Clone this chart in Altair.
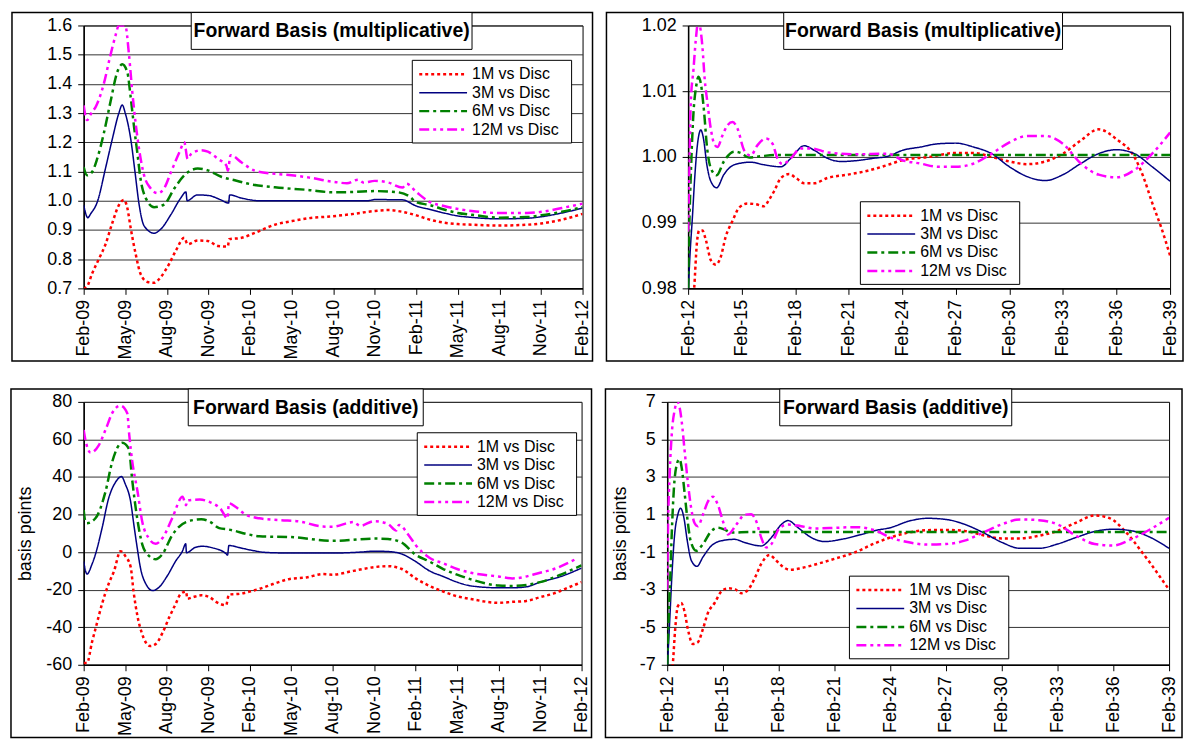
import altair as alt
import pandas as pd

SERIES = ["1M vs Disc", "3M vs Disc", "6M vs Disc", "12M vs Disc"]
COLORS = ["#FF0000", "#000080", "#008000", "#FF00FF"]
DASHES = [[3, 3], [1, 0], [10, 4, 3, 4], [10, 4, 3, 4, 3, 4]]
WIDTHS = [2.5, 1.5, 2.5, 2.5]

SHORT_TICKS = ["Feb-09", "May-09", "Aug-09", "Nov-09", "Feb-10", "May-10", "Aug-10",
               "Nov-10", "Feb-11", "May-11", "Aug-11", "Nov-11", "Feb-12"]
LONG_TICKS = ["Feb-12", "Feb-15", "Feb-18", "Feb-21", "Feb-24", "Feb-27", "Feb-30",
              "Feb-33", "Feb-36", "Feb-39"]

# ---------------- Panel 1: multiplicative, Feb-09..Feb-12 (months) ----------------
P1_X_1M = [0, 0.24, 0.6, 1.09, 1.57, 2.06, 2.54, 2.9, 3.15, 3.39, 3.75, 4.1, 4.6, 5.08, 5.57, 6.17, 6.66,
           7.26, 7.5, 8.23, 8.96, 9.7, 10.4, 10.5, 11.4, 12.35, 13.8, 15, 16.2, 18, 19.5, 21, 22, 23, 24,
           25, 26, 27, 28, 30, 32, 33, 34.5, 36]
P1_Y_1M = [0.7, 0.706, 0.75, 0.8, 0.85, 0.923, 0.985, 1.003, 0.975, 0.907, 0.818, 0.75, 0.722, 0.719,
           0.739, 0.784, 0.83, 0.873, 0.851, 0.864, 0.862, 0.845, 0.843, 0.868, 0.873, 0.89, 0.918, 0.93,
           0.94, 0.947, 0.955, 0.965, 0.968, 0.962, 0.95, 0.935, 0.925, 0.92, 0.918, 0.915, 0.918, 0.922,
           0.935, 0.955]
P1_X_3M = [0, 0.3, 0.5, 1.0, 1.57, 2.06, 2.54, 2.78, 3.0, 3.4, 3.7, 4.0, 4.36, 5.08, 5.57, 6.3, 7.0, 7.38,
           7.46, 8.2, 9.0, 9.9, 10.46, 10.53, 11.4, 12.7, 15, 18, 20.5, 21, 23, 24, 25, 26, 27, 28, 30, 32,
           33, 34.5, 36]
P1_Y_3M = [0.985, 0.942, 0.955, 0.998, 1.11, 1.21, 1.3, 1.328, 1.3, 1.21, 1.1, 0.987, 0.914, 0.889, 0.903,
           0.953, 1.009, 1.03, 1.0, 1.02, 1.018, 1.003, 0.992, 1.02, 1.009, 1.0, 1.0, 1.0, 1.0, 1.004, 1.003,
           0.982, 0.97, 0.958, 0.948, 0.943, 0.938, 0.94, 0.945, 0.958, 0.975]
P1_X_6M = [0, 0.24, 0.6, 0.97, 1.45, 1.94, 2.42, 2.78, 3.15, 3.39, 3.63, 3.87, 4.1, 4.48, 5.08, 5.8, 6.54,
           7.26, 8.23, 8.96, 9.93, 10.9, 12.1, 13.8, 16.2, 18, 19.5, 21, 22.5, 23.5, 24, 25, 26, 27, 28, 30,
           32, 33, 34.5, 36]
P1_Y_6M = [1.115, 1.087, 1.098, 1.143, 1.23, 1.34, 1.44, 1.467, 1.44, 1.355, 1.255, 1.165, 1.076, 1.009,
           0.978, 0.987, 1.042, 1.087, 1.11, 1.104, 1.082, 1.07, 1.056, 1.046, 1.037, 1.029, 1.03, 1.033,
           1.03, 1.015, 0.995, 0.985, 0.97, 0.958, 0.952, 0.942, 0.944, 0.95, 0.962, 0.978]
P1_X_12M = [0, 0.24, 0.6, 0.85, 1.45, 1.94, 2.3, 2.54, 3.0, 3.27, 3.5, 3.75, 4.0, 4.36, 4.84, 5.33, 5.8, 6.3,
            6.9, 7.26, 7.5, 7.75, 8.47, 8.96, 9.7, 10.3, 10.4, 10.6, 11.4, 12.35, 13.8, 15, 16.2, 18, 19,
            19.8, 20.2, 21, 22, 23, 23.3, 24, 25, 26, 27, 28, 30, 32, 33, 34.5, 36]
P1_Y_12M = [1.326, 1.276, 1.304, 1.32, 1.4, 1.5, 1.566, 1.6, 1.6, 1.5, 1.377, 1.265, 1.176, 1.087, 1.042,
            1.026, 1.042, 1.098, 1.165, 1.2, 1.143, 1.16, 1.173, 1.168, 1.143, 1.12, 1.103, 1.156, 1.131,
            1.103, 1.092, 1.087, 1.08, 1.065, 1.06, 1.072, 1.062, 1.068, 1.062, 1.045, 1.058, 1.03, 0.995,
            0.982, 0.972, 0.965, 0.958, 0.958, 0.962, 0.975, 0.99]

# ---------------- Panel 2: multiplicative, Feb-12..Feb-39 (years) ----------------
P2_X_1M = [0, 0.34, 0.49, 0.62, 0.8, 1.0, 1.27, 1.55, 1.83, 2.1, 2.49, 2.86, 3.33, 3.8, 4.26, 4.54, 4.82,
           5.2, 5.66, 6.04, 6.5, 7.07, 7.8, 8.93, 10.06, 11.2, 12, 13.5, 15, 16, 17, 18, 19, 20, 21, 22, 23,
           24, 25, 25.5, 26, 26.5, 27]
P2_Y_1M = [0.972, 0.98, 0.9868, 0.9888, 0.9888, 0.9873, 0.9843, 0.9836, 0.9848, 0.9878, 0.9903, 0.9923,
           0.9929, 0.9928, 0.9925, 0.9935, 0.9948, 0.9968, 0.9974, 0.9968, 0.996, 0.996, 0.9968, 0.9973,
           0.9979, 0.9988, 0.9995, 1.0, 1.0006, 1.0006, 1.0, 0.9993, 0.9989, 0.9993, 1.0005, 1.0025, 1.0042,
           1.0027, 1.0, 0.997, 0.993, 0.9893, 0.985]
P2_X_3M = [0, 0.11, 0.24, 0.37, 0.52, 0.71, 0.86, 1.05, 1.27, 1.6, 2.0, 2.58, 3.5, 4.26, 5.2, 5.76, 6.5,
           7.07, 7.8, 8.56, 9.3, 10.4, 11.2, 12, 13, 14, 15, 16, 17, 18, 19, 20, 21, 22, 23, 24, 25, 26, 27]
P2_Y_3M = [0.979, 0.9853, 0.9908, 0.9968, 1.0018, 1.0041, 1.0028, 0.9988, 0.9963, 0.9953, 0.9973, 0.9988,
           0.9992, 0.9988, 0.9985, 0.9998, 1.0017, 1.001, 0.9998, 0.9993, 0.9994, 0.9998, 1.0001, 1.001,
           1.0015, 1.002, 1.0021, 1.0015, 1.0005, 0.9985, 0.997, 0.9964, 0.9973, 0.999, 1.0005, 1.0011,
           1.0005, 0.9985, 0.9963]
P2_X_6M = [0, 0.07, 0.19, 0.3, 0.45, 0.58, 0.71, 0.9, 1.05, 1.27, 1.6, 2.0, 2.58, 2.95, 3.42, 4.07, 5, 27]
P2_Y_6M = [0.98, 0.9898, 1.0002, 1.0067, 1.0107, 1.0122, 1.0112, 1.0067, 1.0017, 0.9983, 0.9972, 0.9993,
           1.0008, 1.0006, 0.9999, 1.0001, 1.0003, 1.0003]
P2_X_12M = [0, 0.06, 0.15, 0.3, 0.43, 0.56, 0.67, 0.8, 0.93, 1.08, 1.27, 1.46, 1.64, 1.93, 2.2, 2.49, 2.77,
            3.14, 3.5, 3.89, 4.36, 4.73, 5.0, 5.29, 5.76, 6.3, 6.9, 7.8, 9.3, 11.2, 12, 13, 14, 15, 16, 17,
            18, 19, 20, 21, 22, 23, 24, 25, 26, 27]
P2_Y_12M = [0.9886, 0.9968, 1.0083, 1.0133, 1.0178, 1.0205, 1.0198, 1.0168, 1.0118, 1.0083, 1.0043, 1.002,
            1.0015, 1.0033, 1.0048, 1.0053, 1.0043, 1.001, 1.0002, 1.0018, 1.0028, 1.002, 0.9998, 0.9989,
            0.9998, 1.0013, 1.0013, 1.0007, 1.0004, 1.0005, 0.9995, 0.999, 0.9985, 0.9985, 0.999, 1.0005,
            1.0022, 1.0032, 1.0032, 1.002, 0.999, 0.9973, 0.9969, 0.998, 1.0005, 1.0037]

# ---------------- Panel 3: additive (bp), Feb-09..Feb-12 (months) ----------------
P3_X_1M = [0, 0.24, 0.6, 0.9, 1.33, 1.8, 2.2, 2.66, 3.0, 3.4, 3.6, 3.9, 4.2, 4.8, 5.2, 5.7, 6.2, 6.66, 7.0,
           7.4, 7.5, 7.9, 8.5, 9.1, 9.6, 10.3, 10.5, 11.3, 12, 12.7, 13.7, 14.9, 16.1, 17.3, 18, 19.5, 21,
           22, 23, 24, 25, 26, 27, 28, 30, 31, 32, 33, 34, 35, 36]
P3_Y_1M = [-59, -59, -48, -39.5, -27.5, -17, -10, 0.5, -2, -8, -20.6, -34.5, -43, -50, -49, -43, -34.5,
           -27.5, -22.4, -21, -24.8, -24, -23, -24, -26.6, -28.3, -22.6, -22.2, -21, -19.6, -17, -14.3,
           -13.5, -11.7, -12, -10, -8, -7.5, -9, -14, -18, -21, -23.5, -25, -27, -26.5, -26, -24, -22, -19,
           -16]
P3_X_3M = [0, 0.24, 0.6, 0.85, 1.33, 1.8, 2.3, 2.74, 3.0, 3.4, 3.63, 3.87, 4.1, 4.5, 5.0, 5.45, 6.05, 6.66,
           7.14, 7.38, 7.43, 8.1, 8.6, 9.3, 10.3, 10.4, 10.5, 11.3, 12.2, 13.2, 15, 18, 20, 21, 22, 23, 24,
           25, 26, 27, 28, 30, 31, 32, 33, 34.5, 36]
P3_Y_3M = [-5, -11.7, -6.5, -1.2, 12.8, 28.5, 37.2, 40.2, 36.4, 26.7, 14.5, 2.3, -8.2, -17, -20.5, -18.7,
           -12.6, -4.7, 0.5, 4.4, -0.3, 2.6, 3.1, 2.3, -0.9, -1.6, 3.5, 2.3, 0.9, -0.2, -0.5, -0.5, 0, 0.5,
           0.3, -1, -5, -10, -13, -16, -18, -19, -19, -18.5, -16, -13, -8.5]
P3_X_6M = [0, 0.1, 0.24, 0.85, 1.57, 2.06, 2.78, 3.27, 3.5, 3.87, 4.24, 4.72, 5.2, 5.7, 6.4, 7.4, 8.5, 9.1,
           9.8, 10.5, 12, 12.7, 15, 18, 21, 22, 23, 24, 25, 26, 27, 28, 30, 31, 33, 34.5, 36]
P3_Y_6M = [22.4, 17, 15.4, 18, 32, 48, 58.2, 55, 39, 18, 4, -2, -3.8, -1, 9, 16, 17.5, 16.3, 12.8, 12, 9.3,
           8.4, 8, 6, 7.2, 7, 5, -1.4, -5, -9, -12, -14.5, -17.8, -18, -16, -12, -7]
P3_X_12M = [0, 0.12, 0.5, 1.1, 1.6, 2.06, 2.66, 3.15, 3.3, 3.5, 3.9, 4.24, 4.7, 5.2, 5.7, 6.4, 7.15, 7.4,
            7.5, 8.4, 9.1, 9.9, 10.4, 10.5, 11.0, 11.7, 12.7, 14.2, 15.6, 17.3, 18, 19.5, 20, 21, 22, 22.6,
            22.8, 23.5, 24, 25, 26, 27, 28, 30, 31, 33, 34, 35.5]
P3_Y_12M = [65, 60, 53, 57, 65.5, 74, 78, 74, 62, 49, 32, 16, 7.5, 4.4, 7.5, 18, 29.5, 25, 27.5, 28, 26.7,
            23, 18, 26, 24, 20, 18, 17, 16.3, 13.6, 13.5, 16, 14, 16.5, 15, 11.5, 14.5, 9, 3.8, -3, -6, -9,
            -11, -13, -14, -11, -9, -4]

# ---------------- Panel 4: additive (bp), Feb-12..Feb-39 (years) ----------------
P4_X_1M = [0, 0.3, 0.43, 0.57, 0.75, 0.93, 1.11, 1.38, 1.65, 1.92, 2.19, 2.55, 2.91, 3.27, 3.63, 3.99,
           4.34, 4.7, 5.06, 5.51, 5.78, 6.14, 6.59, 7.22, 8.11, 9.0, 10.1, 11.2, 12, 13, 14, 15, 16, 17, 18,
           19, 20, 21, 22, 23, 23.5, 24, 24.5, 25, 25.5, 26, 26.5, 27]
P4_Y_1M = [-9, -7, -5.1, -3.89, -3.71, -4.15, -5.1, -5.89, -5.8, -5.1, -4.24, -3.71, -3.1, -2.93, -2.97,
           -3.19, -3.02, -2.41, -1.62, -1.15, -1.36, -1.71, -1.94, -1.85, -1.62, -1.36, -1.01, -0.52, -0.22,
           0.04, 0.17, 0.18, 0.13, -0.1, -0.27, -0.27, -0.13, 0.13, 0.57, 0.95, 0.9, 0.7, 0.25, -0.3, -0.95,
           -1.6, -2.3, -3.0]
P4_X_3M = [0, 0.13, 0.25, 0.4, 0.57, 0.72, 0.9, 1.08, 1.3, 1.6, 1.92, 2.37, 2.9, 3.63, 4.17, 5.06, 5.6,
           6.14, 6.5, 7.04, 7.76, 8.47, 9.37, 10.45, 11.2, 12, 13, 14, 15, 16, 17, 18, 19, 20, 21, 22, 23,
           24, 25, 26, 27]
P4_Y_3M = [-7.3, -4.76, -2.3, -0.06, 0.99, 1.34, 0.82, -0.4, -1.45, -1.76, -1.27, -0.67, -0.4, -0.32,
           -0.49, -0.67, -0.23, 0.47, 0.68, 0.3, -0.23, -0.44, -0.32, -0.06, 0.15, 0.3, 0.65, 0.8, 0.74,
           0.48, 0.04, -0.48, -0.8, -0.8, -0.57, -0.22, 0.1, 0.22, 0.13, -0.22, -0.8]
P4_X_6M = [0, 0.07, 0.16, 0.25, 0.36, 0.5, 0.66, 0.79, 0.93, 1.08, 1.26, 1.56, 1.92, 2.37, 2.73, 3.09,
           3.45, 4.5, 27]
P4_Y_6M = [-7, -4.76, -2.5, 0.12, 2.38, 3.6, 3.95, 3.43, 2.2, 0.82, -0.4, -0.93, -0.58, 0.12, 0.3, 0.2,
           0.04, 0.07, 0.07]
P4_X_12M = [0, 0.04, 0.13, 0.25, 0.4, 0.54, 0.66, 0.79, 0.93, 1.11, 1.29, 1.47, 1.65, 1.92, 2.19, 2.46,
            2.73, 3.0, 3.27, 3.72, 4.17, 4.52, 4.79, 5.06, 5.33, 5.6, 6.05, 6.5, 7.2, 7.94, 9.0, 10.1, 11.2,
            12, 13, 14, 15, 16, 17, 18, 19, 20, 21, 22, 23, 24, 25, 26, 27]
P4_Y_12M = [-3.0, 0.12, 3.08, 5.35, 6.56, 7.0, 6.74, 5.87, 4.47, 2.73, 1.34, 0.55, 0.38, 0.99, 1.69, 1.95,
            1.51, 0.64, -0.06, 0.47, 0.99, 1.02, 0.64, -0.23, -0.75, -0.58, 0.29, 0.47, 0.38, 0.26, 0.29,
            0.33, 0.15, -0.22, -0.48, -0.6, -0.57, -0.39, 0.04, 0.48, 0.74, 0.7, 0.48, -0.13, -0.57, -0.65,
            -0.3, 0.22, 0.83]

FONT = "Liberation Sans"
ONE = pd.DataFrame({"k": [0]})
TOP = 13
BOTTOM = 73
LEG_W = 160
LEG_H = 83
LEG_ROW = 18.5
LEG_FONT = 16


def tick_label_expr(labels):
    arr = ",".join("'%s'" % s for s in labels)
    return "[" + arr + "][round(datum.value / 3)]"


def panel(xs, ys, ticks, ydom, yvals, ylab, w, h, left, right, title, tbox, lpos,
          ytitle=None, ytitle_x=0):
    xmax = 3 * (len(ticks) - 1)
    xaxis = alt.Axis(values=list(range(0, xmax + 1, 3)), labelExpr=tick_label_expr(ticks),
                     labelAngle=-90, grid=False, title=None, labelPadding=5, tickSize=6)
    yargs = dict(values=yvals, labelExpr=ylab, grid=True, tickSize=6, labelPadding=6)
    if ytitle:
        yargs.update(title=ytitle, titleX=ytitle_x, titleY=h / 2, titleAngle=-90,
                     titleAlign="center", titleBaseline="middle")
    else:
        yargs.update(title=None)
    yaxis = alt.Axis(**yargs)
    xsc = alt.Scale(domain=[0, xmax], nice=False, zero=False)
    ysc = alt.Scale(domain=ydom, nice=False, zero=False)

    layers = [
        alt.Chart(ONE).mark_rect(fill="white", fillOpacity=0, stroke="black", strokeWidth=1.5).encode(
            x=alt.value(-left), x2=alt.value(w + right), y=alt.value(-TOP), y2=alt.value(h + BOTTOM))
    ]
    for i in range(4):
        df = pd.DataFrame({"x": xs[i], "y": ys[i]})
        layers.append(
            alt.Chart(df).mark_line(color=COLORS[i], strokeDash=DASHES[i], strokeWidth=WIDTHS[i],
                                    clip=True, interpolate="monotone").encode(
                x=alt.X("x:Q", scale=xsc, axis=xaxis),
                y=alt.Y("y:Q", scale=ysc, axis=yaxis),
            )
        )
    # title box
    layers.append(alt.Chart(ONE).mark_rect(fill="white", stroke="black", strokeWidth=1).encode(
        x=alt.value(tbox[0]), x2=alt.value(tbox[1]), y=alt.value(-13), y2=alt.value(24)))
    layers.append(alt.Chart(ONE).mark_text(text=title, font=FONT, fontSize=19.5, fontWeight="bold",
                                           align="center", baseline="middle", color="black").encode(
        x=alt.value((tbox[0] + tbox[1]) / 2), y=alt.value(6)))
    # legend box
    lx, ly = lpos
    layers.append(alt.Chart(ONE).mark_rect(fill="white", stroke="black", strokeWidth=1).encode(
        x=alt.value(lx), x2=alt.value(lx + LEG_W), y=alt.value(ly), y2=alt.value(ly + LEG_H)))
    for i in range(4):
        ry = ly + 14 + i * LEG_ROW
        layers.append(alt.Chart(ONE).mark_rule(color=COLORS[i], strokeDash=DASHES[i],
                                               strokeWidth=WIDTHS[i]).encode(
            x=alt.value(lx + 7), x2=alt.value(lx + 55), y=alt.value(ry)))
        layers.append(alt.Chart(ONE).mark_text(text=SERIES[i], font=FONT, fontSize=LEG_FONT, align="left",
                                               baseline="middle", color="black").encode(
            x=alt.value(lx + 60), y=alt.value(ry)))
    return alt.layer(*layers).properties(width=w, height=h)


H = 264
p1 = panel([P1_X_1M, P1_X_3M, P1_X_6M, P1_X_12M], [P1_Y_1M, P1_Y_3M, P1_Y_6M, P1_Y_12M],
           SHORT_TICKS, [0.7, 1.6], [round(0.7 + 0.1 * i, 1) for i in range(10)],
           "format(datum.value, '.1f')", 501, H, 72, 10, "Forward Basis (multiplicative)",
           (108, 390), (330, 35))
p2 = panel([P2_X_1M, P2_X_3M, P2_X_6M, P2_X_12M], [P2_Y_1M, P2_Y_3M, P2_Y_6M, P2_Y_12M],
           LONG_TICKS, [0.98, 1.02], [0.98, 0.99, 1.0, 1.01, 1.02],
           "format(datum.value, '.2f')", 484, H, 82, 13, "Forward Basis (multiplicative)",
           (96, 376), (173, 177))
p3 = panel([P3_X_1M, P3_X_3M, P3_X_6M, P3_X_12M], [P3_Y_1M, P3_Y_3M, P3_Y_6M, P3_Y_12M],
           SHORT_TICKS, [-60, 80], [-60, -40, -20, 0, 20, 40, 60, 80],
           "toString(datum.value)", 500, H, 73, 10, "Forward Basis (additive)",
           (105, 341), (335, 31), ytitle="basis points", ytitle_x=-58)
p4 = panel([P4_X_1M, P4_X_3M, P4_X_6M, P4_X_12M], [P4_Y_1M, P4_Y_3M, P4_Y_6M, P4_Y_12M],
           LONG_TICKS, [-7, 7], [-7, -5, -3, -1, 1, 3, 5, 7],
           "toString(datum.value)", 504, H, 62, 13, "Forward Basis (additive)",
           (113, 346), (183, 175), ytitle="basis points", ytitle_x=-47)

chart = alt.vconcat(
    alt.hconcat(p1, p2, spacing=10),
    alt.hconcat(p3, p4, spacing=10),
    spacing=24,
).properties(padding=1).configure_view(
    stroke="black", strokeWidth=1
).configure_axis(
    labelFont=FONT, labelFontSize=18, labelColor="black",
    titleFont=FONT, titleFontSize=18, titleFontWeight="normal", titleColor="black",
    domainColor="black", domainWidth=1.5, tickColor="black", tickWidth=1,
    gridColor="#333333", gridWidth=1, gridOpacity=1,
)

chart.save("out.html", embed_options={"renderer": "svg", "actions": False})
